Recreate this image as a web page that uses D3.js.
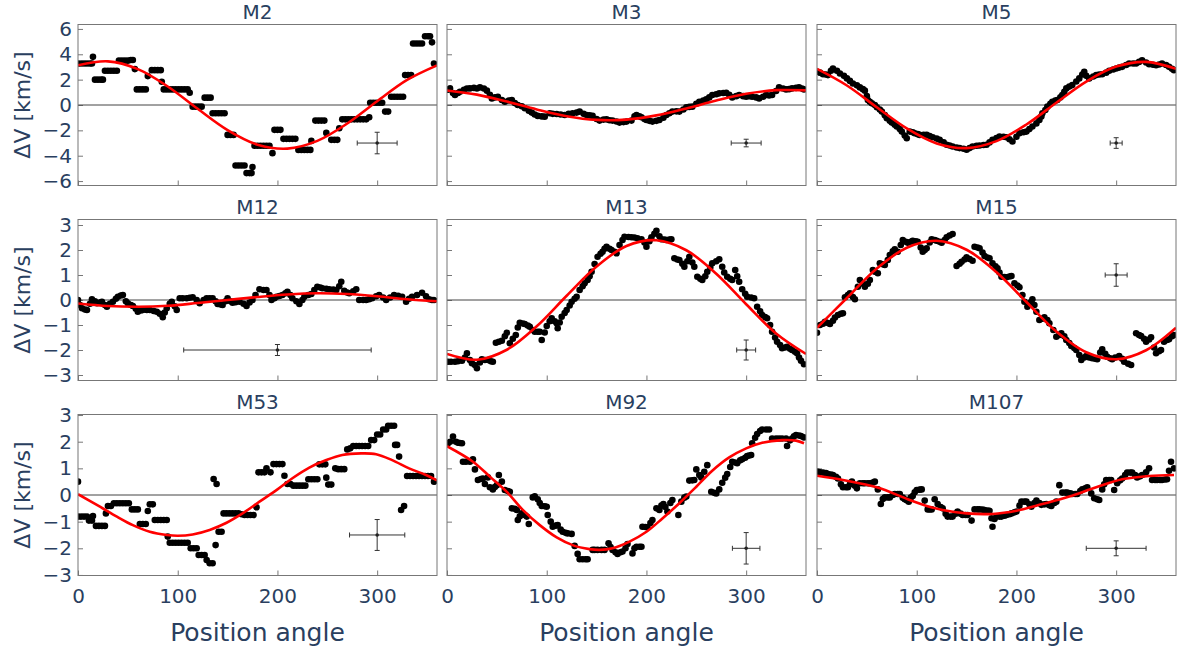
<!DOCTYPE html>
<html>
<head>
<meta charset="utf-8">
<script src="https://cdn.jsdelivr.net/npm/d3@7"></script>
<style>
  body { margin: 0; background: #fff; }
  svg text { font-family: "DejaVu Sans", Verdana, sans-serif; fill: #2a3f5f; }
</style>
</head>
<body>
<div id="viz"></div>
<script>
// cluster names, one panel each (3 x 3)
const panelNames = ["M2", "M3", "M5", "M12", "M13", "M15", "M53", "M92", "M107"];

const xTicks = [0, 100, 200, 300];
const yTicksByRow = [
  [-6, -4, -2, 0, 2, 4, 6],
  [-3, -2, -1, 0, 1, 2, 3],
  [-3, -2, -1, 0, 1, 2, 3]
];

// measured points [position angle, dV]
const m2Points = [
  [0,3.27],[3,3.27],[6,3.27],[9,3.27],[12,3.27],[14,3.27],[15,3.8],
  [17,2.0],[20,2.0],[23,2.0],[25,2.0],
  [27,2.7],[30,2.7],[33,2.7],[36,2.7],[39,2.7],
  [41,3.5],[44,3.5],[47,3.5],[50,3.5],[53,3.55],[55,3.55],[57,2.83],
  [59,1.23],[62,1.23],[65,1.23],[68,1.23],[70,2.28],
  [74,2.75],[77,2.75],[80,2.75],[83,2.75],[84,1.83],
  [86,1.23],[89,1.23],[92,1.23],[95,1.23],[98,1.23],[101,1.23],[104,1.23],[107,1.23],[110,1.23],[112,0.97],
  [115,-0.13],[118,-0.13],[121,-0.13],[124,-0.13],
  [127,0.58],[130,0.58],[133,0.58],
  [135,-0.65],[138,-0.65],[141,-0.65],[144,-0.65],[147,-0.65],
  [150,-2.36],[153,-2.36],[156,-2.36],
  [158,-4.77],[161,-4.77],[164,-4.77],[167,-4.77],
  [169,-5.37],[172,-5.37],[174,-5.37],[175,-4.9],
  [177,-3.22],[180,-3.22],[183,-3.22],[186,-3.22],[189,-3.22],[192,-3.22],[195,-3.8],
  [197,-1.96],[200,-1.96],[203,-1.96],
  [206,-2.67],[209,-2.67],[212,-2.67],[215,-2.67],[218,-2.67],
  [221,-3.54],[224,-3.54],[227,-3.54],[230,-3.54],[233,-3.54],[234,-2.83],
  [238,-1.23],[241,-1.23],[244,-1.23],[247,-1.23],[249,-2.2],
  [254,-2.75],[257,-2.75],[260,-2.75],[262,-1.83],
  [265,-1.13],[268,-1.13],[271,-1.13],[274,-1.13],[277,-1.13],[280,-1.13],[283,-1.13],[286,-1.13],[289,-1.13],[292,-0.97],
  [293,0.18],[296,0.18],[299,0.18],[302,0.18],[305,0.18],
  [308,-0.52],[311,-0.52],
  [314,0.65],[317,0.65],[320,0.65],[323,0.65],[326,0.65],
  [328,2.36],[331,2.36],[334,2.36],
  [336,4.85],[339,4.85],[342,4.85],[345,4.85],
  [348,5.42],[351,5.42],[353,5.42],[355,4.94],[357,3.27]
];

const m3Points = [
  [1,1.2],[3,1.31],[6,0.95],[8,0.79],[11,0.95],[13,1.05],[17,1.2],[20,1.3],[23,1.31],[27,1.35],[30,1.3],[33,1.39],[37,1.3],
  [40,1.13],[43,0.8],[45,0.52],[48,0.6],[51,0.65],[55,0.4],[58,0.26],[62,0.35],[65,0.39],[68,0.15],
  [71,0],[75,-0.1],[78,-0.26],[82,-0.45],[85,-0.6],[88,-0.75],[91,-0.86],[95,-0.9],[98,-0.92],
  [103,-0.65],[106,-0.7],[110,-0.71],[114,-0.75],[118,-0.79],[122,-0.7],[126,-0.65],[130,-0.6],[133,-0.52],
  [137,-0.7],[140,-0.79],[143,-0.82],[146,-0.86],[150,-1.1],[153,-1.23],[157,-1.15],[160,-1.13],[163,-1.2],[166,-1.23],
  [170,-1.3],[173,-1.39],[177,-1.35],[180,-1.31],[185,-1.23],[188,-0.9],[190,-0.79],[193,-0.9],[195,-0.97],[198,-1.1],
  [200,-1.18],[203,-1.25],[206,-1.31],[210,-1.25],[213,-1.18],[217,-1.0],[220,-0.79],[223,-0.65],[226,-0.52],
  [230,-0.5],[233,-0.52],[237,-0.35],[240,-0.18],[243,-0.15],[246,-0.13],[250,0.1],[253,0.26],[257,0.35],[260,0.45],
  [263,0.6],[266,0.79],[270,0.85],[273,0.92],[277,0.95],[280,0.97],[283,0.8],[286,0.6],[290,0.7],[293,0.79],
  [297,0.7],[300,0.65],[303,0.7],[306,0.65],[310,0.6],[313,0.52],[317,0.65],[320,0.79],[323,0.75],[326,0.79],
  [330,1.1],[333,1.39],[337,1.3],[340,1.23],[343,1.25],[346,1.31],[350,1.35],[353,1.39],[356,1.3],[358,1.23]
];

const m5Points = [
  [0,2.62],[3,2.55],[6,2.43],[9,2.4],[11,2.36],[14,2.7],[16,2.88],[20,2.7],[23,2.49],[27,2.3],[30,2.1],[33,1.9],
  [36,1.7],[40,1.55],[43,1.39],[46,1.25],[48,1.13],[50,0.7],[51,0.39],[53,0.25],[55,0.13],[58,0],[60,-0.18],[63,-0.35],
  [65,-0.52],[68,-0.8],[70,-1.05],[73,-1.25],[75,-1.39],[78,-1.55],[80,-1.7],[83,-1.9],[85,-2.1],[88,-2.4],[90,-2.62],
  [93,-2.1],[96,-2.15],[98,-2.23],[101,-2.3],[103,-2.36],[107,-2.36],[110,-2.36],[113,-2.45],[116,-2.54],[120,-2.65],
  [123,-2.75],[127,-2.95],[130,-3.14],[133,-3.2],[136,-3.27],[140,-3.35],[143,-3.4],[147,-3.45],[150,-3.53],[153,-3.4],
  [156,-3.27],[160,-3.22],[163,-3.19],[167,-3.16],[170,-3.14],[173,-2.95],[176,-2.75],[180,-2.6],[183,-2.49],[187,-2.5],
  [190,-2.54],[193,-2.7],[196,-2.88],[200,-2.5],[203,-2.23],[207,-2.15],[210,-2.1],[213,-1.9],[216,-1.7],[220,-1.45],
  [223,-1.18],[225,-0.9],[226,-0.65],[229,-0.4],[231,-0.13],[234,0.1],[236,0.26],[239,0.35],[241,0.39],[244,0.6],
  [246,0.79],[248,1.05],[250,1.31],[253,1.45],[256,1.57],[260,1.85],[263,2.1],[266,2.4],[268,2.62],[270,2.3],
  [273,2.1],[277,2.25],[280,2.36],[283,2.4],[286,2.43],[290,2.55],[293,2.7],[297,2.8],[300,2.88],[303,2.95],
  [306,3.01],[310,3.15],[313,3.27],[317,3.27],[320,3.27],[323,3.4],[326,3.53],[330,3.35],[333,3.22],[337,3.18],
  [340,3.14],[343,3.2],[346,3.27],[350,3.15],[353,3.01],[356,2.85],[358,2.75]
];

const m12Points = [
  [0,0],[2,-0.2],[4,-0.33],[7,-0.38],[9,-0.4],[12,-0.15],[14,0.03],[17,-0.05],[19,-0.13],[22,-0.1],[24,-0.07],
  [27,-0.2],[29,-0.27],[32,-0.15],[35,-0.07],[38,0.05],[40,0.13],[43,0.18],[45,0.2],[48,-0.05],[50,-0.13],
  [53,-0.2],[55,-0.24],[58,-0.35],[60,-0.47],[63,-0.42],[65,-0.4],[69,-0.4],[72,-0.4],[76,-0.44],[79,-0.47],
  [82,-0.55],[85,-0.69],[87,-0.5],[89,-0.33],[92,-0.15],[94,-0.07],[97,-0.25],[99,-0.4],[102,0.07],[105,0.07],
  [109,0.07],[112,0.09],[115,0.11],[119,0.0],[122,-0.13],[126,0.0],[129,0.07],[132,0.07],[135,0.07],[138,-0.05],
  [140,-0.16],[143,-0.18],[145,-0.2],[148,-0.05],[150,0.07],[153,-0.05],[155,-0.11],[158,-0.09],[162,-0.07],
  [166,-0.15],[169,-0.24],[172,-0.1],[175,0],[178,0.2],[182,0.43],[186,0.4],[189,0.4],[192,0.2],[194,0],
  [197,0.07],[199,0.13],[202,0.16],[205,0.2],[208,0.27],[210,0.33],[213,0.2],[215,0.07],[219,-0.05],[222,-0.16],
  [225,0.0],[227,0.13],[231,0.2],[234,0.24],[237,0.4],[240,0.53],[243,0.5],[245,0.47],[249,0.45],[252,0.43],
  [256,0.42],[259,0.4],[262,0.55],[264,0.73],[267,0.37],[270,0.3],[272,0.27],[276,0.35],[279,0.43],[282,0],
  [286,0],[289,0],[292,0.03],[295,0.07],[299,0.15],[302,0.2],[306,0.1],[309,0],[313,0.1],[317,0.2],[321,0.17],
  [325,0.13],[329,-0.07],[332,0.05],[335,0.13],[340,0.2],[345,0.29],[349,0.15],[352,0.03],[355,0.0],[357,0]
];

const m13Points = [
  [1,-2.47],[4,-2.47],[8,-2.47],[11,-2.45],[15,-2.43],[18,-2.3],[20,-2.13],[23,-2.4],[25,-2.53],[28,-2.6],[30,-2.73],
  [33,-2.5],[35,-2.37],[38,-2.4],[41,-2.4],[44,-2.45],[46,-2.47],[49,-1.71],[52,-1.67],[55,-1.63],[58,-1.45],
  [60,-1.31],[63,-1.73],[66,-1.55],[69,-1.4],[71,-1.1],[73,-0.91],[76,-0.94],[78,-0.96],[81,-1.02],[83,-1.07],
  [86,-1.2],[88,-1.27],[91,-1.27],[93,-1.27],[95,-1.6],[98,-1.3],[100,-1.04],[103,-0.85],[105,-0.73],[108,-0.85],
  [110,-0.93],[111,-1.13],[113,-0.9],[115,-0.67],[118,-0.52],[120,-0.4],[123,-0.22],[125,-0.07],[128,0.05],
  [130,0.13],[133,0.4],[136,0.55],[138,0.67],[141,0.8],[143,0.95],[145,1.13],[148,1.44],[151,1.73],[154,1.85],
  [156,1.93],[158,2.05],[160,2.13],[163,2.05],[165,2.0],[168,1.93],[170,1.87],[173,2.2],[176,2.4],[178,2.53],
  [182,2.52],[185,2.51],[188,2.5],[191,2.47],[195,2.43],[198,2.3],[200,2.13],[203,2.35],[205,2.51],[208,2.65],
  [210,2.77],[213,2.55],[215,2.43],[218,2.42],[220,2.4],[223,2.42],[225,2.43],[228,1.67],[231,1.62],[233,1.6],
  [236,1.45],[238,1.33],[241,1.55],[243,1.73],[246,1.5],[248,1.33],[251,0.93],[254,0.85],[256,0.8],[259,0.95],
  [261,1.13],[264,1.3],[266,1.47],[270,1.55],[273,1.63],[276,1.33],[278,1.1],[281,0.93],[284,0.85],[286,0.8],
  [289,1.2],[291,0.95],[293,0.73],[296,0.43],[299,0.25],[301,0.13],[305,0.1],[308,0.07],[311,-0.27],[314,-0.45],
  [316,-0.6],[319,-0.68],[321,-0.73],[324,-1.0],[326,-1.27],[329,-1.5],[331,-1.67],[334,-1.8],[336,-1.93],
  [339,-1.9],[341,-1.87],[344,-1.95],[346,-2.0],[349,-2.07],[351,-2.13],[353,-2.3],[355,-2.43],[358,-2.57]
];

const m15Points = [
  [0,-1.31],[3,-1.0],[6,-0.95],[8,-0.87],[11,-0.92],[13,-0.96],[16,-0.83],[18,-0.7],[21,-0.6],[24,-0.55],[26,-0.53],
  [28,0.11],[31,0.2],[33,0.27],[36,0.12],[38,0.03],[41,0.53],[43,0.8],[46,0.65],[48,0.53],[51,0.65],[53,0.8],
  [56,1.2],[58,1.13],[61,1.07],[63,1.47],[66,1.43],[68,1.4],[71,1.6],[73,1.8],[76,1.95],[78,2.03],[81,1.93],
  [84,2.2],[86,2.4],[89,2.33],[91,2.29],[94,2.33],[96,2.37],[99,2.35],[101,2.33],[104,2.1],[106,1.93],[108,2.0],
  [110,2.07],[113,2.3],[115,2.43],[118,2.4],[120,2.37],[123,2.33],[125,2.29],[128,2.4],[130,2.51],[133,2.58],
  [136,2.64],[140,1.36],[143,1.45],[145,1.53],[148,1.62],[150,1.71],[153,1.64],[156,1.57],[158,2.13],[161,2.1],
  [163,2.07],[166,1.9],[168,1.76],[171,1.7],[173,1.67],[176,1.47],[179,1.35],[181,1.27],[183,1.1],[185,0.93],
  [188,0.92],[190,0.91],[193,0.94],[195,0.96],[198,0.67],[201,0.58],[203,0.51],[206,0.2],[208,-0.07],[211,-0.27],
  [214,-0.1],[216,0.03],[218,-0.2],[220,-0.47],[223,-0.8],[226,-0.75],[228,-0.69],[231,-0.8],[233,-0.93],
  [237,-1.2],[240,-1.47],[243,-1.4],[245,-1.33],[248,-1.45],[250,-1.6],[253,-1.72],[255,-1.84],[258,-1.92],
  [260,-2.0],[263,-2.2],[265,-2.4],[268,-2.3],[270,-2.24],[273,-2.3],[276,-2.33],[279,-2.35],[281,-2.37],
  [284,-2.1],[286,-1.97],[289,-2.15],[291,-2.27],[294,-2.33],[296,-2.37],[299,-2.3],[303,-2.24],[306,-2.35],
  [308,-2.47],[312,-2.55],[315,-2.6],[320,-1.33],[323,-1.4],[325,-1.44],[328,-1.55],[330,-1.67],[333,-1.58],
  [335,-1.49],[338,-1.9],[340,-2.13],[343,-2.05],[345,-2.0],[348,-1.67],[351,-1.6],[353,-1.57],[356,-1.45],[358,-1.4]
];

const m53Points = [
  [0,0.5],[0,-0.81],[3,-0.81],[6,-0.81],[9,-0.81],[11,-0.96],[14,-0.96],[15,-0.79],
  [18,-1.16],[21,-1.16],[24,-1.16],[27,-1.16],[28,-0.69],[30,-0.41],[33,-0.41],
  [36,-0.31],[39,-0.31],[42,-0.31],[45,-0.31],[48,-0.31],[51,-0.31],
  [54,-0.54],[57,-0.54],[60,-0.54],[62,-1.09],[65,-1.09],[68,-1.09],[70,-0.6],[72,-0.35],[75,-0.35],
  [77,-0.94],[80,-0.94],[83,-0.94],[86,-0.94],[89,-0.94],[90,-1.56],
  [92,-1.79],[95,-1.79],[98,-1.79],[101,-1.79],[104,-1.79],[107,-1.79],[110,-1.79],
  [113,-2.0],[116,-2.0],[119,-2.0],[121,-2.25],[124,-2.25],[127,-2.25],[129,-2.44],[132,-2.56],[135,-2.56],
  [136,0.6],[139,0.41],[138,-1.88],[141,-1.38],[144,-1.38],
  [146,-0.69],[149,-0.69],[152,-0.69],[155,-0.69],[158,-0.69],[161,-0.69],[164,-0.72],[167,-0.75],[170,-0.75],[173,-0.75],[176,-0.75],
  [179,-0.46],[181,0.85],[184,0.85],[187,0.85],[189,1.0],[193,0.85],
  [196,1.16],[199,1.16],[202,1.16],[205,1.16],[207,0.72],[210,0.41],[213,0.41],
  [216,0.35],[219,0.35],[222,0.35],[225,0.35],[228,0.35],
  [231,0.59],[234,0.59],[237,0.59],[240,0.59],[242,1.15],[245,1.15],[248,1.15],[249,0.65],[251,0.39],[254,0.39],
  [258,1.0],[261,0.97],[264,0.97],[267,0.97],[270,1.71],[273,1.75],
  [276,1.84],[279,1.84],[282,1.84],[285,1.84],[288,1.84],[291,1.84],[294,2.06],[297,2.06],
  [300,2.27],[303,2.27],[306,2.46],[309,2.46],[311,2.6],[314,2.6],[317,2.6],[318,1.88],[320,1.88],[322,1.44],
  [324,-0.56],[327,-0.41],
  [330,0.71],[333,0.71],[336,0.71],[339,0.71],[342,0.71],[345,0.71],[348,0.71],[351,0.71],[354,0.71],[357,0.5]
];

const m92Points = [
  [1,1.94],[3,2.0],[6,2.19],[9,2.0],[11,1.96],[13,1.95],[15,1.94],[16,1.25],[19,1.25],[23,1.25],[26,1.34],
  [28,0.96],[31,0.56],[34,0.6],[36,0.62],[38,0.41],[41,0.66],[43,0.29],[46,0.21],[48,0.3],[50,0.37],[52,0.75],
  [55,0.5],[58,0.19],[61,0.15],[63,0.12],[65,-0.5],[68,-0.52],[70,-0.56],[71,-0.94],[73,-0.8],[75,-0.69],
  [78,-0.75],[80,-0.81],[82,-1.09],[86,-0.09],[88,-0.05],[91,-0.16],[93,-0.3],[95,-0.41],[98,-0.42],[100,-0.44],
  [101,-0.75],[104,-1.0],[106,-1.19],[109,-1.15],[111,-1.13],[114,-1.3],[116,-1.38],[119,-1.42],[121,-1.44],
  [125,-1.46],[128,-1.91],[131,-2.21],[133,-2.41],[136,-2.41],[139,-2.41],[141,-2.41],[146,-2.06],[148,-2.06],
  [151,-2.06],[155,-2.06],[158,-2.06],[162,-1.81],[164,-1.95],[166,-2.06],[169,-2.15],[171,-2.21],[174,-2.15],
  [176,-2.12],[179,-2.0],[181,-1.84],[186,-2.19],[188,-2.0],[190,-1.94],[193,-1.94],[195,-1.94],[196,-1.19],
  [199,-1.2],[201,-1.21],[204,-1.05],[206,-0.94],[210,-0.5],[213,-0.56],[215,-0.4],[217,-0.34],[219,-0.45],
  [221,-0.62],[224,-0.3],[226,-0.19],[232,-0.75],[235,-0.25],[238,-0.1],[240,-0.06],[243,0.54],[246,0.55],
  [248,0.56],[250,0.96],[253,0.75],[255,0.66],[258,0.87],[261,1.12],[265,0.12],[268,0.08],[270,0.06],[273,0.21],
  [276,0.46],[279,0.65],[281,0.79],[284,1.05],[286,1.25],[289,1.22],[291,1.19],[294,1.3],[296,1.34],[299,1.4],
  [301,1.46],[303,1.48],[305,1.5],[306,1.94],[309,2.15],[311,2.29],[314,2.4],[316,2.46],[320,2.46],[323,2.46],
  [326,2.12],[330,2.12],[333,2.12],[336,2.12],[340,2.12],[341,1.84],[344,2.05],[346,2.12],[348,2.2],[350,2.25],
  [353,2.23],[355,2.21],[358,2.16]
];

const m107Points = [
  [1,0.87],[3,0.85],[6,0.84],[9,0.82],[11,0.79],[14,0.77],[16,0.75],[19,0.68],[21,0.62],[24,0.4],[26,0.29],
  [29,0.29],[31,0.29],[33,0.4],[35,0.5],[38,0.35],[40,0.25],[43,0.44],[46,0.44],[48,0.44],[51,0.44],[53,0.44],
  [56,0.47],[58,0.5],[61,0.21],[64,-0.34],[66,-0.15],[68,-0.09],[71,-0.09],[73,-0.09],[76,0.0],[78,0.04],
  [81,0.04],[83,0.04],[86,-0.1],[88,-0.16],[90,-0.2],[92,-0.25],[94,-0.1],[96,-0.04],[98,0.1],[100,0.19],
  [103,0.2],[105,0.21],[108,-0.21],[111,-0.54],[113,-0.54],[115,-0.54],[118,-0.16],[121,-0.34],[124,-0.45],
  [126,-0.5],[129,-0.7],[131,-0.81],[134,-0.81],[136,-0.81],[139,-0.7],[141,-0.62],[144,-0.7],[146,-0.75],
  [149,-0.75],[151,-0.75],[155,-0.96],[158,-0.54],[161,-0.54],[163,-0.54],[166,-0.55],[168,-0.56],[171,-0.58],
  [173,-0.59],[175,-0.87],[176,-1.19],[178,-0.9],[180,-0.81],[183,-0.81],[185,-0.81],[188,-0.78],[190,-0.75],
  [193,-0.72],[195,-0.69],[198,-0.65],[200,-0.62],[203,-0.4],[205,-0.25],[208,-0.25],[210,-0.25],[213,-0.35],
  [215,-0.44],[218,-0.3],[220,-0.21],[223,-0.3],[225,-0.37],[228,-0.35],[230,-0.34],[233,-0.38],[235,-0.41],
  [238,-0.3],[240,-0.25],[243,0.37],[246,0.09],[249,0.09],[251,0.09],[254,0.06],[256,0.04],[259,0.04],[261,0.04],
  [264,0.15],[266,0.21],[269,0.25],[271,0.29],[275,0.06],[278,-0.12],[281,-0.16],[283,-0.19],[286,0.21],
  [288,0.4],[290,0.56],[293,0.56],[295,0.56],[298,0.19],[301,0.44],[304,0.55],[306,0.62],[309,0.75],[311,0.84],
  [314,0.84],[316,0.84],[319,0.75],[321,0.66],[324,0.7],[326,0.75],[330,0.85],[333,1.0],[336,0.56],[339,0.56],
  [341,0.56],[344,0.56],[346,0.56],[349,0.58],[351,0.59],[353,0.91],[355,1.25],[358,1.0]
];

// fitted curve [position angle, dV]
const m2Fit = [[0,3.13],[30,3.44],[60,2.83],[90,1.46],[120,-0.3],[150,-1.98],[180,-3.13],[210,-3.44],[240,-2.83],[270,-1.46],[300,0.3],[330,1.98],[360,3.13]];
const m3Fit = [[0,1.15],[30,0.82],[60,0.27],[90,-0.35],[120,-0.88],[150,-1.17],[180,-1.15],[210,-0.82],[240,-0.27],[270,0.35],[300,0.88],[330,1.17],[360,1.15]];
const m5Fit = [[0,2.85],[30,1.54],[60,-0.18],[90,-1.85],[120,-3.03],[150,-3.4],[180,-2.85],[210,-1.54],[240,0.18],[270,1.85],[300,3.03],[330,3.4],[360,2.85]];
const m12Fit = [[0,-0.14],[30,-0.24],[60,-0.27],[90,-0.23],[120,-0.12],[150,0.0],[180,0.12],[210,0.22],[240,0.27],[270,0.24],[300,0.15],[330,0.03],[360,-0.05]];
const m13Fit = [[0,-2.16],[30,-2.39],[60,-1.99],[90,-1.05],[120,0.17],[150,1.34],[180,2.16],[210,2.39],[240,1.99],[270,1.05],[300,-0.17],[330,-1.34],[360,-2.16]];
const m15Fit = [[0,-1.11],[30,0.08],[60,1.26],[90,2.09],[120,2.37],[150,2.01],[180,1.11],[210,-0.08],[240,-1.26],[270,-2.09],[300,-2.37],[330,-2.01],[360,-1.11]];
const m53Fit = [[0,0.03],[22,-0.44],[39,-0.81],[55,-1.13],[72,-1.38],[89,-1.5],[100,-1.53],[115,-1.48],[132,-1.31],[149,-1.04],[165,-0.69],[182,-0.25],[200,0.21],[215,0.63],[232,1.03],[249,1.31],[265,1.5],[284,1.56],[299,1.53],[315,1.31],[332,1.0],[349,0.75],[360,0.55]];
const m92Fit = [[0,1.83],[26,1.25],[43,0.69],[60,0.12],[76,-0.56],[93,-1.13],[110,-1.59],[126,-1.88],[143,-2.03],[153,-2.06],[166,-2.0],[183,-1.75],[200,-1.38],[216,-0.88],[233,-0.31],[250,0.31],[266,0.91],[283,1.41],[300,1.75],[316,1.96],[336,2.06],[350,2.04],[358,1.94]];
const m107Fit = [[0,0.72],[26,0.56],[60,0.29],[93,-0.19],[110,-0.41],[126,-0.56],[150,-0.69],[176,-0.71],[200,-0.59],[226,-0.34],[253,-0.06],[280,0.29],[306,0.59],[333,0.71],[358,0.75]];

// typical uncertainty cross: centre and half-widths
const errX = [300, 300, 300, 200, 300, 300, 300, 300, 300];
const errY = [-3, -3, -3, -2, -2, 1, -1.5, -2, -2];
const errHalfX = [20, 15, 6, 94, 9.5, 11, 27.7, 13.8, 30];
const errHalfY = [0.85, 0.3, 0.42, 0.22, 0.4, 0.45, 0.58, 0.59, 0.28];

const pointSets = [m2Points, m3Points, m5Points, m12Points, m13Points, m15Points, m53Points, m92Points, m107Points];
const fitSets = [m2Fit, m3Fit, m5Fit, m12Fit, m13Fit, m15Fit, m53Fit, m92Fit, m107Fit];

// layout
const W = 1183, H = 653;
const colLeft = [78, 447, 817];
const rowTop = [24.5, 219.5, 414.5];
const pw = 359, ph = 161;
const rowDomains = [[-6.35, 6.35], [-3.22, 3.22], [-3.02, 3.02]];

const svg = d3.select("#viz").append("svg")
  .attr("width", W)
  .attr("height", H);

const defs = svg.append("defs");

panelNames.forEach(function(name, i) {
  const row = Math.floor(i / 3), col = i % 3;
  const x = d3.scaleLinear().domain([0, 360]).range([0, pw]);
  const y = d3.scaleLinear().domain(rowDomains[row]).range([ph, 0]);

  const g = svg.append("g")
    .attr("transform", `translate(${colLeft[col]},${rowTop[row]})`);

  defs.append("clipPath").attr("id", "clip" + i)
    .append("rect").attr("width", pw).attr("height", ph);

  // axes, ticks pointing inward
  const yAxis = d3.axisLeft(y)
    .tickValues(yTicksByRow[row])
    .tickFormat(col > 0 ? "" : d3.format("d"))
    .tickSizeInner(-5).tickSizeOuter(0)
    .tickPadding(6);
  const ya = g.append("g").call(yAxis);

  const xAxis = d3.axisBottom(x)
    .tickValues(xTicks)
    .tickFormat(row < 2 ? "" : d3.format("d"))
    .tickSizeInner(-5).tickSizeOuter(0)
    .tickPadding(13);
  const xa = g.append("g").attr("transform", `translate(0,${ph})`).call(xAxis);

  [ya, xa].forEach(function(a) {
    a.select(".domain").remove();
    a.selectAll(".tick line").attr("stroke", "#777");
    a.selectAll("text")
      .style("font-size", "20px")
      .attr("fill", "#2a3f5f")
      .style("font-family", "'DejaVu Sans', Verdana, sans-serif");
  });

  // zero line
  g.append("line")
    .attr("x1", 0).attr("x2", pw)
    .attr("y1", y(0)).attr("y2", y(0))
    .attr("stroke", "#444").attr("stroke-width", 1);

  const inner = g.append("g").attr("clip-path", `url(#clip${i})`);

  inner.selectAll("circle.pts")
    .data(pointSets[i]).enter()
    .append("circle")
    .attr("class", "pts")
    .attr("cx", d => x(d[0]))
    .attr("cy", d => y(d[1]))
    .attr("r", 3.3)
    .attr("fill", "#000");

  // error cross
  const ex = errX[i], ey = errY[i], hx = errHalfX[i], hy = errHalfY[i];
  const eb = g.append("g").attr("stroke", "#333").attr("stroke-width", 1);
  eb.append("line").attr("x1", x(ex - hx)).attr("x2", x(ex + hx)).attr("y1", y(ey)).attr("y2", y(ey));
  eb.append("line").attr("x1", x(ex)).attr("x2", x(ex)).attr("y1", y(ey - hy)).attr("y2", y(ey + hy));
  [ex - hx, ex + hx].forEach(v => eb.append("line")
    .attr("x1", x(v)).attr("x2", x(v)).attr("y1", y(ey) - 2.5).attr("y2", y(ey) + 2.5));
  [ey - hy, ey + hy].forEach(v => eb.append("line")
    .attr("x1", x(ex) - 2.5).attr("x2", x(ex) + 2.5).attr("y1", y(v)).attr("y2", y(v)));
  g.append("circle").attr("cx", x(ex)).attr("cy", y(ey)).attr("r", 1.8).attr("fill", "#222");

  // fit
  const line = d3.line()
    .x(d => x(d[0]))
    .y(d => y(d[1]))
    .curve(d3.curveCatmullRom.alpha(0.5));
  inner.append("path")
    .datum(fitSets[i])
    .attr("d", line)
    .attr("fill", "none")
    .attr("stroke", "#ff0000")
    .attr("stroke-width", 2.6);

  // frame
  g.append("rect")
    .attr("width", pw).attr("height", ph)
    .attr("fill", "none")
    .attr("stroke", "#777").attr("stroke-width", 1);

  // title
  g.append("text")
    .attr("x", pw / 2).attr("y", -6)
    .attr("text-anchor", "middle")
    .style("font-size", "20px")
    .text(name);

  if (row === 2) {
    g.append("text")
      .attr("x", pw / 2).attr("y", ph + 65)
      .attr("text-anchor", "middle")
      .style("font-size", "25px")
      .text("Position angle");
  }
  if (col === 0) {
    g.append("text")
      .attr("transform", `translate(${30 - colLeft[0]},${ph / 2}) rotate(-90)`)
      .attr("text-anchor", "middle")
      .style("font-size", "22px")
      .text("ΔV [km/s]");
  }
});
</script>
</body>
</html>
